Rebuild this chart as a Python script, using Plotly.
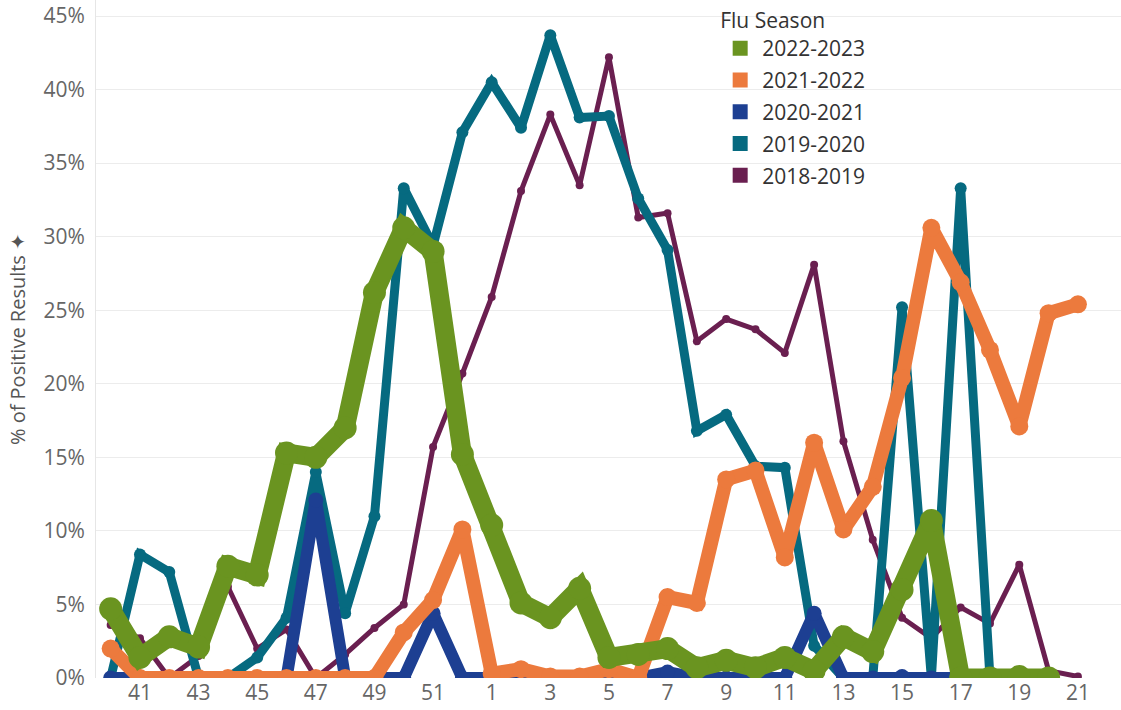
import plotly.graph_objects as go

weeks = [str(w) for w in list(range(40, 53)) + list(range(1, 22))]
tick_weeks = [str(w) for w in [41, 43, 45, 47, 49, 51, 1, 3, 5, 7, 9, 11, 13, 15, 17, 19, 21]]
y_ticks = [0, 5, 10, 15, 20, 25, 30, 35, 40, 45]
y_ticktext = [f"{v}%" for v in y_ticks]

seasons = ["2022-2023", "2021-2022", "2020-2021", "2019-2020", "2018-2019"]
colors = ["#6a9420", "#ec7a3d", "#1d3f92", "#066a80", "#6a1f50"]

s_2022_2023 = [4.7, 1.4, 2.8, 2.1, 7.6, 7.0, 15.3, 15.0, 17.0, 26.2, 30.6, 29.0, 15.2,
               10.4, 5.1, 4.1, 6.1, 1.4, 1.6, 2.0, 0.7, 1.2, 0.7, 1.4, 0.5, 2.8, 1.8,
               6.0, 10.7, 0.0, 0.0, 0.1, 0.0, None]
s_2021_2022 = [2.0, 0.0, 0.0, 0.0, 0.0, 0.0, 0.0, 0.0, 0.0, 0.0, 3.1, 5.3, 10.1,
               0.3, 0.6, 0.1, 0.1, 0.6, 0.0, 5.5, 5.1, 13.5, 14.1, 8.2, 16.0, 10.1, 13.0,
               20.4, 30.6, 26.9, 22.3, 17.1, 24.8, 25.4]
s_2020_2021 = [0.0, 0.0, 0.0, 0.0, 0.0, 0.0, 0.0, 12.1, 0.0, 0.0, 0.0, 4.4, 0.0,
               0.0, 0.0, 0.0, 0.0, 0.0, 0.0, 0.4, 0.0, 0.0, 0.0, 0.0, 4.4, 0.0, 0.0,
               0.1, 0.0, 0.0, None, None, None, None]
s_2019_2020 = [0.0, 8.4, 7.2, 0.0, 0.0, 1.4, 4.1, 14.0, 4.4, 11.0, 33.3, 29.4, 37.1,
               40.5, 37.4, 43.7, 38.1, 38.2, 32.6, 29.1, 16.8, 17.9, 14.4, 14.3, 2.2, 0.0, 0.0,
               25.2, 0.0, 33.3, 0.0, None, None, None]
s_2018_2019 = [3.6, 2.7, 0.0, 1.5, 6.2, 2.0, 3.3, 0.0, 1.6, 3.4, 5.0, 15.7, 20.7,
               25.9, 33.1, 38.3, 33.5, 42.2, 31.3, 31.6, 22.9, 24.4, 23.7, 22.1, 28.1, 16.1, 9.4,
               4.1, 2.7, 4.8, 3.7, 7.7, 0.5, 0.1]

series = [s_2022_2023, s_2021_2022, s_2020_2021, s_2019_2020, s_2018_2019]
line_w = [19, 14, 12, 9, 5]
mark_s = [23, 18, 15, 12, 8]

fig = go.Figure()
# draw bottom-most first (last legend item)
for i in reversed(range(len(seasons))):
    fig.add_trace(go.Scatter(
        x=weeks, y=series[i], mode="lines+markers", name=seasons[i],
        line=dict(color=colors[i], width=line_w[i]),
        marker=dict(color=colors[i], size=mark_s[i]),
        showlegend=False, connectgaps=False, hoverinfo="skip",
    ))
# legend entries as squares
for i in range(len(seasons)):
    fig.add_trace(go.Scatter(
        x=[None], y=[None], mode="markers", name=seasons[i],
        marker=dict(color=colors[i], size=15, symbol="square"),
        legendgroup=seasons[i], showlegend=True,
    ))

fig.update_layout(
    width=1121, height=710,
    margin=dict(l=96, r=0, t=0, b=32, autoexpand=False),
    paper_bgcolor="white", plot_bgcolor="white",
    font=dict(family="Open Sans, sans-serif", size=21, color="#555"),
    showlegend=True,
    legend=dict(
        x=0.607, y=0.999, xanchor="left", yanchor="top",
        title=dict(text="Flu Season", font=dict(size=21, color="#333")),
        font=dict(size=21, color="#333"),
        bgcolor="rgba(255,255,255,0)",
        tracegroupgap=1.5,
        itemwidth=34,
    ),
    xaxis=dict(
        type="category", categoryorder="array", categoryarray=weeks,
        tickmode="array", tickvals=tick_weeks, ticktext=tick_weeks,
        range=[-0.5, 34.47], showgrid=False, zeroline=False, automargin=False,
        showline=False, ticks="", ticklabeloverflow="allow",
        tickfont=dict(size=21, color="#666"),
    ),
    yaxis=dict(
        range=[0, 46.09], tickmode="array", tickvals=y_ticks, ticktext=y_ticktext,
        showgrid=True, gridcolor="#ececec", gridwidth=1, automargin=False,
        zeroline=False, showline=True, linecolor="#e6e6e6", linewidth=1,
        ticks="", ticklabelstandoff=6, ticklabeloverflow="allow",
        tickfont=dict(size=21, color="#666"),
        title=dict(text="% of Positive Results ✦", font=dict(size=20, color="#555"), standoff=12),
    ),
)

fig.write_html(
    "out.html",
    config={"displayModeBar": False},
    post_script="document.body.style.margin='0';document.body.style.overflow='hidden';",
)
